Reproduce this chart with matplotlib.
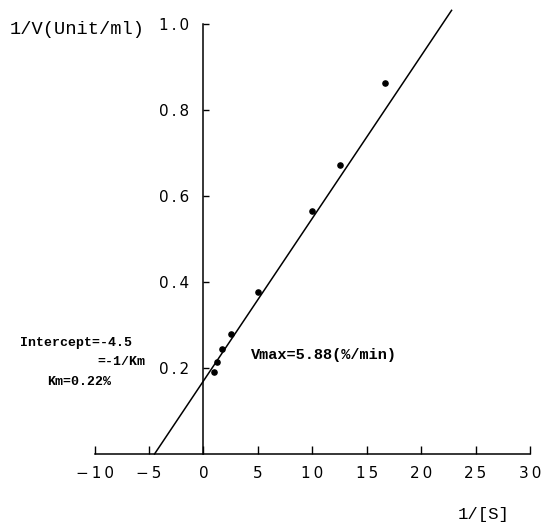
import matplotlib.pyplot as plt
import numpy as np

# Lineweaver-Burk data
inv_s = [1.0, 1.25, 1.67, 2.5, 5.0, 10.0, 12.5, 16.67]
inv_v = [0.19, 0.215, 0.245, 0.28, 0.377, 0.565, 0.672, 0.862]

vmax = 5.88
x_intercept = -4.5
x_ticks = [-10, -5, 0, 5, 10, 15, 20, 25, 30]
y_ticks = [0.2, 0.4, 0.6, 0.8, 1.0]


def spaced(s):
    # plotter-style wide letter spacing
    return '\u2009'.join(s)


fig = plt.figure(figsize=(5.42, 5.24), dpi=100)
ax = fig.add_axes([0.1747, 0.1336, 0.803, 0.8206])

ax.scatter(inv_s, inv_v, s=14, color='black', zorder=3)

# fitted line: y = 1/Vmax * (1 - x/x_intercept)
x_line = np.array([x_intercept, 22.8])
y_line = (1 / vmax) * (1 - x_line / x_intercept)
ax.plot(x_line, y_line, color='black', lw=1.1, clip_on=False)

ax.set_xlim(-10, 30)
ax.set_ylim(0, 1.0)
for s in ['top', 'right']:
    ax.spines[s].set_visible(False)
ax.spines['left'].set_position(('data', 0))
ax.spines['bottom'].set_position(('data', 0))
ax.spines['left'].set_linewidth(1.1)
ax.spines['bottom'].set_linewidth(1.1)

ax.set_xticks(x_ticks)
ax.set_xticklabels([spaced(str(t).replace('-', '\u2212')) for t in x_ticks])
ax.set_yticks(y_ticks)
ax.set_yticklabels([spaced('%.1f' % t) for t in y_ticks])
ax.tick_params(axis='x', direction='in', length=6, width=1, labelsize=11, pad=9)
ax.tick_params(axis='y', direction='in', length=4, width=1, labelsize=11, pad=10)

mono = 'Liberation Mono'
fig.text(10 / 542, 1 - 30 / 524, '1/V(Unit/ml)', family=mono, fontsize=13.5,
         va='center', ha='left')
fig.text(510 / 542, 1 - 515 / 524, '1/[S]', family=mono, fontsize=12.5,
         va='center', ha='right')

fig.text(20 / 542, 1 - 343 / 524, 'Intercept=-4.5', family=mono, fontsize=9.5,
         weight='bold', va='center', ha='left')
fig.text(145 / 542, 1 - 362 / 524, '=-1/Km', family=mono, fontsize=9.5,
         weight='bold', va='center', ha='right')
fig.text(47 / 542, 1 - 382 / 524, 'Km=0.22%', family=mono, fontsize=9.5,
         weight='bold', va='center', ha='left')
fig.text(251 / 542, 1 - 355 / 524, 'Vmax=5.88(%/min)', family=mono, fontsize=11,
         weight='bold', va='center', ha='left')

fig.savefig('out.png', dpi=100)
